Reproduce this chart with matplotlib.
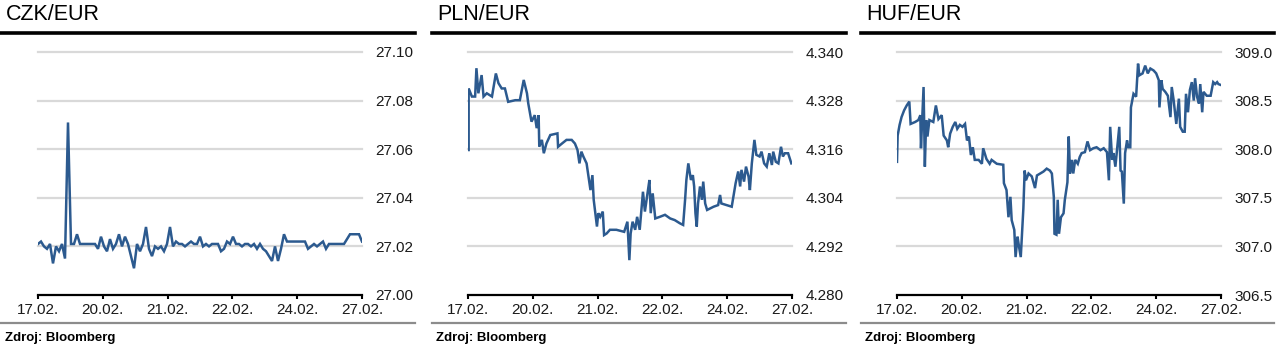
import numpy as np
import matplotlib
matplotlib.use('Agg')
import matplotlib.pyplot as plt
from matplotlib.lines import Line2D

plt.rcParams['font.family'] = ['Liberation Sans', 'DejaVu Sans']

# popisky osi x (spolecne pro vsechny grafy)
dates = ['17.02.', '20.02.', '21.02.', '22.02.', '24.02.', '27.02.']

# CZK/EUR - hodnoty rovnomerne rozlozene v case
czk = [27.021, 27.022, 27.020, 27.019, 27.021, 27.013, 27.020, 27.018, 27.021, 27.015,
       27.071, 27.021, 27.021, 27.025, 27.021, 27.021, 27.021, 27.021, 27.021, 27.021,
       27.019, 27.024, 27.020, 27.018, 27.023, 27.019, 27.021, 27.025, 27.020, 27.024,
       27.021, 27.016, 27.011, 27.021, 27.018, 27.021, 27.028, 27.019, 27.016, 27.020,
       27.019, 27.020, 27.018, 27.021, 27.028, 27.020, 27.022, 27.021, 27.021, 27.020,
       27.021, 27.022, 27.021, 27.021, 27.024, 27.020, 27.021, 27.020, 27.021, 27.021,
       27.021, 27.018, 27.019, 27.022, 27.021, 27.024, 27.021, 27.021, 27.020, 27.021,
       27.021, 27.020, 27.021, 27.019, 27.021, 27.019, 27.018, 27.016, 27.014, 27.020,
       27.014, 27.019, 27.025, 27.022, 27.022, 27.022, 27.022, 27.022, 27.022, 27.022,
       27.019, 27.020, 27.021, 27.020, 27.021, 27.022, 27.019, 27.021, 27.021, 27.021,
       27.021, 27.021, 27.021, 27.023, 27.025, 27.025, 27.025, 27.025, 27.022]
czk_ticks = [27.00, 27.02, 27.04, 27.06, 27.08, 27.10]
czk_labels = ['27.00', '27.02', '27.04', '27.06', '27.08', '27.10']

# PLN/EUR - cas (v jednotkach popisku osi x) a kurz
pln_t = [0.01, 0.01, 0.06, 0.11, 0.13, 0.16, 0.21, 0.24, 0.29, 0.37,
         0.43, 0.47, 0.52, 0.57, 0.62, 0.73, 0.80, 0.86, 0.91, 0.93,
         0.98, 1.03, 1.06, 1.09, 1.10, 1.14, 1.17, 1.21, 1.27, 1.38,
         1.39, 1.45, 1.52, 1.60, 1.65, 1.69, 1.72, 1.75, 1.78, 1.83,
         1.86, 1.89, 1.92, 1.94, 1.99, 2.01, 2.04, 2.08, 2.10, 2.14,
         2.19, 2.29, 2.41, 2.46, 2.49, 2.51, 2.54, 2.58, 2.61, 2.65,
         2.70, 2.73, 2.77, 2.80, 2.82, 2.85, 2.89, 2.96, 3.04, 3.12,
         3.19, 3.27, 3.32, 3.35, 3.37, 3.40, 3.44, 3.47, 3.49, 3.51,
         3.53, 3.55, 3.58, 3.61, 3.63, 3.66, 3.69, 3.79, 3.86, 3.89,
         3.91, 4.07, 4.10, 4.13, 4.17, 4.20, 4.22, 4.26, 4.29, 4.33,
         4.35, 4.38, 4.42, 4.45, 4.50, 4.53, 4.57, 4.61, 4.65, 4.69,
         4.71, 4.75, 4.79, 4.83, 4.86, 4.89, 4.94, 4.99]
pln = [4.3158, 4.3310, 4.3290, 4.3290, 4.3360, 4.3298, 4.3343, 4.3290, 4.3298, 4.3290,
       4.3347, 4.3323, 4.3310, 4.3310, 4.3277, 4.3281, 4.3281, 4.3331, 4.3298, 4.3273,
       4.3228, 4.3244, 4.3212, 4.3244, 4.3166, 4.3183, 4.3150, 4.3174, 4.3195, 4.3199,
       4.3166, 4.3174, 4.3183, 4.3183, 4.3174, 4.3158, 4.3125, 4.3154, 4.3142, 4.3125,
       4.3092, 4.3059, 4.3096, 4.3035, 4.2969, 4.3002, 4.2993, 4.3006, 4.2948, 4.2952,
       4.2961, 4.2961, 4.2956, 4.2981, 4.2886, 4.2952, 4.2981, 4.2961, 4.2993, 4.2961,
       4.3055, 4.3006, 4.3051, 4.3084, 4.3002, 4.3051, 4.2989, 4.2993, 4.2998, 4.2989,
       4.2985, 4.2977, 4.2973, 4.3035, 4.3084, 4.3125, 4.3084, 4.3096, 4.3068, 4.3002,
       4.2969, 4.3026, 4.3068, 4.3035, 4.3080, 4.3026, 4.3010, 4.3018, 4.3022, 4.3047,
       4.3026, 4.3018, 4.3047, 4.3076, 4.3105, 4.3068, 4.3109, 4.3080, 4.3117, 4.3092,
       4.3059, 4.3125, 4.3183, 4.3146, 4.3142, 4.3154, 4.3125, 4.3117, 4.3150, 4.3121,
       4.3154, 4.3129, 4.3125, 4.3166, 4.3142, 4.3150, 4.3150, 4.3125]
pln_ticks = [4.280, 4.292, 4.304, 4.316, 4.328, 4.340]
pln_labels = ['4.280', '4.292', '4.304', '4.316', '4.328', '4.340']

# HUF/EUR
huf_t = [0.00, 0.01, 0.04, 0.07, 0.11, 0.15, 0.19, 0.21, 0.28, 0.33,
         0.36, 0.37, 0.41, 0.43, 0.45, 0.47, 0.50, 0.56, 0.60, 0.64,
         0.69, 0.72, 0.77, 0.79, 0.82, 0.86, 0.90, 0.93, 0.97, 1.01,
         1.05, 1.08, 1.11, 1.14, 1.17, 1.20, 1.26, 1.31, 1.33, 1.38,
         1.43, 1.46, 1.54, 1.64, 1.65, 1.69, 1.72, 1.75, 1.77, 1.81,
         1.83, 1.86, 1.88, 1.91, 1.93, 1.95, 1.97, 1.99, 2.03, 2.08,
         2.13, 2.16, 2.21, 2.26, 2.31, 2.36, 2.39, 2.42, 2.43, 2.46,
         2.48, 2.50, 2.53, 2.57, 2.59, 2.63, 2.65, 2.67, 2.70, 2.72,
         2.75, 2.79, 2.82, 2.85, 2.90, 2.94, 2.98, 3.03, 3.08, 3.14,
         3.19, 3.24, 3.27, 3.29, 3.32, 3.34, 3.37, 3.39, 3.43, 3.45,
         3.47, 3.50, 3.52, 3.55, 3.57, 3.60, 3.61, 3.65, 3.69, 3.72,
         3.74, 3.79, 3.83, 3.87, 3.91, 3.96, 4.00, 4.04, 4.05, 4.08,
         4.10, 4.14, 4.18, 4.22, 4.24, 4.27, 4.31, 4.35, 4.37, 4.41,
         4.44, 4.46, 4.49, 4.52, 4.55, 4.58, 4.60, 4.63, 4.66, 4.68,
         4.71, 4.73, 4.78, 4.84, 4.88, 4.91, 4.94, 4.96, 5.00]
huf = [307.87, 308.14, 308.25, 308.33, 308.40, 308.45, 308.49, 308.26, 308.28, 308.30,
       308.35, 308.01, 308.64, 307.82, 308.30, 308.13, 308.30, 308.28, 308.45, 308.31,
       308.35, 308.14, 308.09, 308.02, 308.16, 308.23, 308.28, 308.21, 308.25, 308.23,
       308.26, 308.09, 308.13, 307.94, 308.02, 307.89, 307.89, 307.85, 308.01, 307.90,
       307.85, 307.89, 307.85, 307.84, 307.65, 307.58, 307.30, 307.51, 307.27, 307.17,
       306.89, 307.10, 307.01, 306.89, 307.13, 307.39, 307.78, 307.68, 307.75, 307.72,
       307.60, 307.73, 307.75, 307.77, 307.80, 307.78, 307.75, 307.51, 307.13, 307.12,
       307.48, 307.13, 307.30, 307.34, 307.48, 307.66, 308.13, 307.75, 307.89, 307.75,
       307.89, 307.85, 307.92, 307.96, 307.97, 308.08, 307.99, 308.01, 308.02, 307.99,
       308.01, 307.97, 307.68, 308.23, 307.89, 307.96, 307.82, 307.96, 308.23, 307.78,
       307.77, 307.44, 307.96, 308.09, 308.02, 308.02, 308.43, 308.57, 308.54, 308.88,
       308.76, 308.78, 308.86, 308.78, 308.83, 308.81, 308.78, 308.71, 308.43, 308.71,
       308.62, 308.59, 308.55, 308.33, 308.64, 308.50, 308.26, 308.52, 308.23, 308.18,
       308.18, 308.57, 308.38, 308.61, 308.69, 308.50, 308.73, 308.54, 308.47, 308.67,
       308.38, 308.59, 308.55, 308.55, 308.69, 308.67, 308.69, 308.67, 308.66]
huf_ticks = [306.5, 307.0, 307.5, 308.0, 308.5, 309.0]
huf_labels = ['306.5', '307.0', '307.5', '308.0', '308.5', '309.0']

W, H = 1281, 352
fig = plt.figure(figsize=(W / 100, H / 100), dpi=100)

line_col = '#2c5a8f'
grid_col = '#d9d9d9'

panels = [
    ('CZK/EUR', np.linspace(0, 5, len(czk)), czk, czk_ticks, czk_labels, 38, 1, 415),
    ('PLN/EUR', pln_t, pln, pln_ticks, pln_labels, 468, 432, 846),
    ('HUF/EUR', huf_t, huf, huf_ticks, huf_labels, 897, 861, 1274),
]

for title, t, vals, yt, ylab, left, x0, x1 in panels:
    ax = fig.add_axes([left / W, 1 - 295 / H, 324 / W, 243 / H])
    ax.plot(t, vals, color=line_col, lw=1.8, solid_joinstyle='miter', zorder=3)
    ax.set_xlim(0, 5)
    ax.set_ylim(yt[0], yt[-1])

    # vodorovne mrizky (krome spodni, tu nahrazuje osa)
    for v in yt[1:]:
        ax.axhline(v, color=grid_col, lw=1.6, zorder=1, clip_on=False)

    ax.set_xticks(range(6))
    ax.set_xticklabels(dates)
    ax.set_yticks(yt)
    ax.set_yticklabels(ylab)
    ax.yaxis.tick_right()
    ax.tick_params(axis='y', length=0, pad=9.5, labelsize=11, labelcolor='#1a1a1a')
    ax.tick_params(axis='x', direction='out', length=3, width=1.5, pad=3,
                   labelsize=11, labelcolor='#1a1a1a')
    for s in ['top', 'left', 'right']:
        ax.spines[s].set_visible(False)
    ax.spines['bottom'].set_linewidth(1.6)
    ax.spines['bottom'].set_zorder(4)

    # nadpis, horni cerna cara, spodni seda cara a zdroj
    fig.text((x0 + 5) / W, 1 - 14 / H, title, fontsize=15.5, va='center', ha='left')
    fig.add_artist(Line2D([x0 / W, x1 / W], [1 - 32.5 / H] * 2, color='black', lw=2.6))
    fig.add_artist(Line2D([x0 / W, x1 / W], [1 - 323 / H] * 2, color='#8c8c8c', lw=1.6))
    fig.text((x0 + 4) / W, 1 - 338 / H, 'Zdroj: Bloomberg', fontsize=9.5,
             fontweight='bold', va='center', ha='left')

fig.savefig('out.png', dpi=100)
